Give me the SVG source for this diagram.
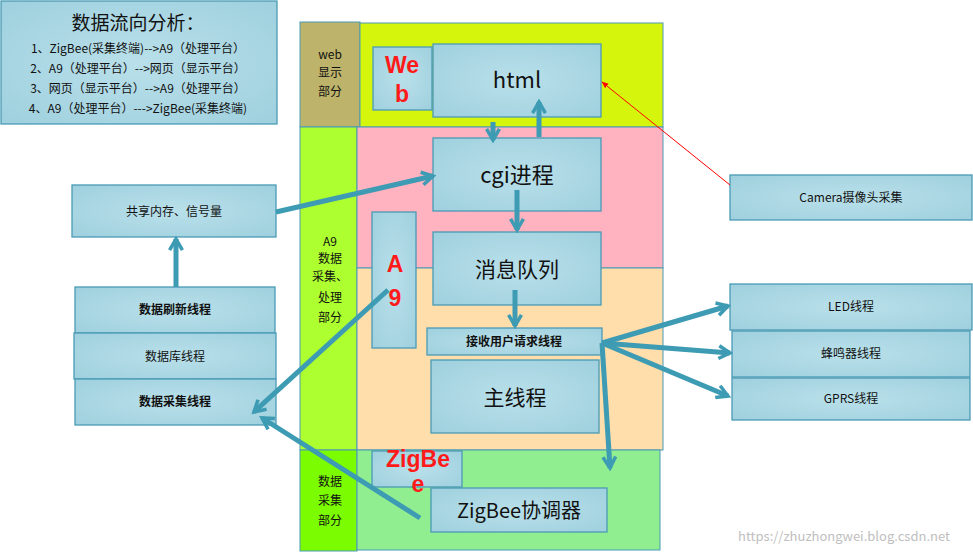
<svg xmlns="http://www.w3.org/2000/svg" width="973" height="553" viewBox="0 0 973 553">
<defs>
<radialGradient id="bg" cx="50%" cy="50%" r="70%"><stop offset="0" stop-color="#b9e0ea"/><stop offset="1" stop-color="#9fd0de"/></radialGradient>
<marker id="ah" viewBox="0 0 10 10" refX="8" refY="5" markerWidth="3.2" markerHeight="3.2" orient="auto" markerUnits="strokeWidth"><path d="M1,1 L8,5 L1,9" fill="none" stroke="#3d9bb3" stroke-width="2.2"/></marker>
<marker id="rh" viewBox="0 0 10 10" refX="9" refY="5" markerWidth="7" markerHeight="7" orient="auto"><path d="M0,1 L10,5 L0,9z" fill="#f00"/></marker>
</defs>
<style>
.b{fill:url(#bg);stroke:#4a9ab5;stroke-width:1.3}
.r{stroke:#4a9ab5;stroke-width:1}
text{font-family:"Noto Sans CJK SC","Liberation Sans",sans-serif;fill:#111;text-anchor:middle}
.c{stroke:#3d9bb3;stroke-width:5;fill:none;marker-end:url(#ah)}
.red{fill:#ff1a1a;font-family:"Liberation Sans","Noto Sans CJK SC",sans-serif;font-weight:bold;font-size:23px}
.sm{font-size:12px}
.bd{font-size:12px;font-weight:bold}
</style>
<rect x="0" y="0" width="973" height="553" fill="#fff"/>
<g id="regions">
<rect class="r" x="300" y="22" width="60" height="105" fill="#bdb36b"/>
<rect class="r" x="360" y="23" width="303" height="104" fill="#d6f50c"/>
<rect class="r" x="300" y="127" width="57" height="323" fill="#adff2f"/>
<rect class="r" x="357" y="127" width="306" height="141" fill="#ffb3c0"/>
<rect class="r" x="357" y="268" width="306" height="182" fill="#ffdeac"/>
<rect class="r" x="300" y="450" width="57" height="101" fill="#7cfc00"/>
<rect class="r" x="357" y="450" width="303" height="100" fill="#90ee90"/>
<text x="330" y="59" class="sm">web</text><text x="330" y="77" class="sm">显示</text><text x="330" y="96" class="sm">部分</text>
<text x="330" y="246" class="sm">A9</text><text x="330" y="263" class="sm">数据</text><text x="330" y="281" class="sm">采集、</text><text x="330" y="302" class="sm">处理</text><text x="330" y="322" class="sm">部分</text>
<text x="330" y="486" class="sm">数据</text><text x="330" y="505" class="sm">采集</text><text x="330" y="525" class="sm">部分</text>
</g>
<g id="info"><rect class="b" x="1" y="1" width="276" height="123"/>
<text x="138" y="30" font-size="19">数据流向分析：</text>
<text x="138" y="53" class="sm">1、ZigBee(采集终端)--&gt;A9（处理平台）</text>
<text x="138" y="73" class="sm">2、A9（处理平台）--&gt;网页（显示平台）</text>
<text x="138" y="93" class="sm">3、网页（显示平台）--&gt;A9（处理平台）</text>
<text x="138" y="113" class="sm">4、A9（处理平台）---&gt;ZigBee(采集终端)</text></g>
<g id="web"><rect class="b" x="373" y="47" width="59" height="63"/><text x="402" y="73" class="red">We</text><text x="402" y="102" class="red">b</text></g>
<g id="html"><rect class="b" x="433" y="44" width="168" height="73"/><text x="517" y="88" font-size="22" font-family="Liberation Sans">html</text></g>
<g id="cgi"><rect class="b" x="433" y="138" width="168" height="73"/><text x="517" y="183" font-size="22">cgi进程</text></g>
<g id="mq"><rect class="b" x="433" y="232" width="168" height="73"/><text x="517" y="277" font-size="21">消息队列</text></g>
<g id="recv"><rect class="b" x="427" y="328" width="175" height="27"/><text x="514" y="346" class="bd">接收用户请求线程</text></g>
<g id="main"><rect class="b" x="431" y="360" width="168" height="73"/><text x="515" y="405" font-size="21">主线程</text></g>
<g id="a9"><rect class="b" x="372" y="212" width="44" height="136"/><text x="395" y="272" class="red">A</text><text x="395" y="306" class="red">9</text></g>
<g id="zb"><rect class="b" x="372" y="451" width="90" height="36"/><text x="418" y="467" class="red" font-size="20">ZigBe</text><text x="418" y="492" class="red" font-size="20">e</text></g>
<g id="zbc"><rect class="b" x="431" y="488" width="176" height="44"/><text x="519" y="518" font-size="20">ZigBee协调器</text></g>
<g id="shm"><rect class="b" x="72" y="185" width="204" height="52"/><text x="174" y="216" class="sm">共享内存、信号量</text></g>
<g id="refresh"><rect class="b" x="75" y="287" width="200" height="46"/><text x="175" y="314" class="bd">数据刷新线程</text></g>
<g id="db"><rect class="b" x="74" y="333" width="202" height="46"/><text x="175" y="361" class="sm">数据库线程</text></g>
<g id="collect"><rect class="b" x="75" y="379" width="201" height="46"/><text x="175" y="406" class="bd">数据采集线程</text></g>
<g id="camera"><rect class="b" x="730" y="175" width="242" height="45"/><text x="851" y="202" class="sm">Camera摄像头采集</text></g>
<g id="led"><rect class="b" x="730" y="284" width="242" height="46"/><text x="851" y="311" class="sm">LED线程</text></g>
<g id="buzz"><rect class="b" x="732" y="331" width="238" height="46"/><text x="851" y="358" class="sm">蜂鸣器线程</text></g>
<g id="gprs"><rect class="b" x="732" y="378" width="238" height="42"/><text x="851" y="403" class="sm">GPRS线程</text></g>
<g id="connectors">
<path class="c" d="M493,122 L493,140"/>
<path class="c" d="M539,137 L539,102"/>
<path class="c" d="M276,212 L433,176"/>
<path class="c" d="M517,190 L517,230"/>
<path class="c" d="M515,290 L515,326"/>
<path class="c" d="M176,287 L176,239"/>
<path class="c" d="M388,290 L254,412"/>
<path class="c" d="M420,518 L262,418"/>
<path class="c" d="M602,343 L728,306"/>
<path class="c" d="M602,343 L730,353"/>
<path class="c" d="M602,343 L728,396"/>
<path class="c" d="M602,343 L610,468"/>
<path d="M730,185 L602,82" stroke="#f00" stroke-width="1" fill="none" marker-end="url(#rh)"/>
</g>
<text x="844" y="541" font-size="13" font-family="Liberation Sans" fill="#bbb" style="fill:#c0c0c0">https://zhuzhongwei.blog.csdn.net</text>
</svg>
